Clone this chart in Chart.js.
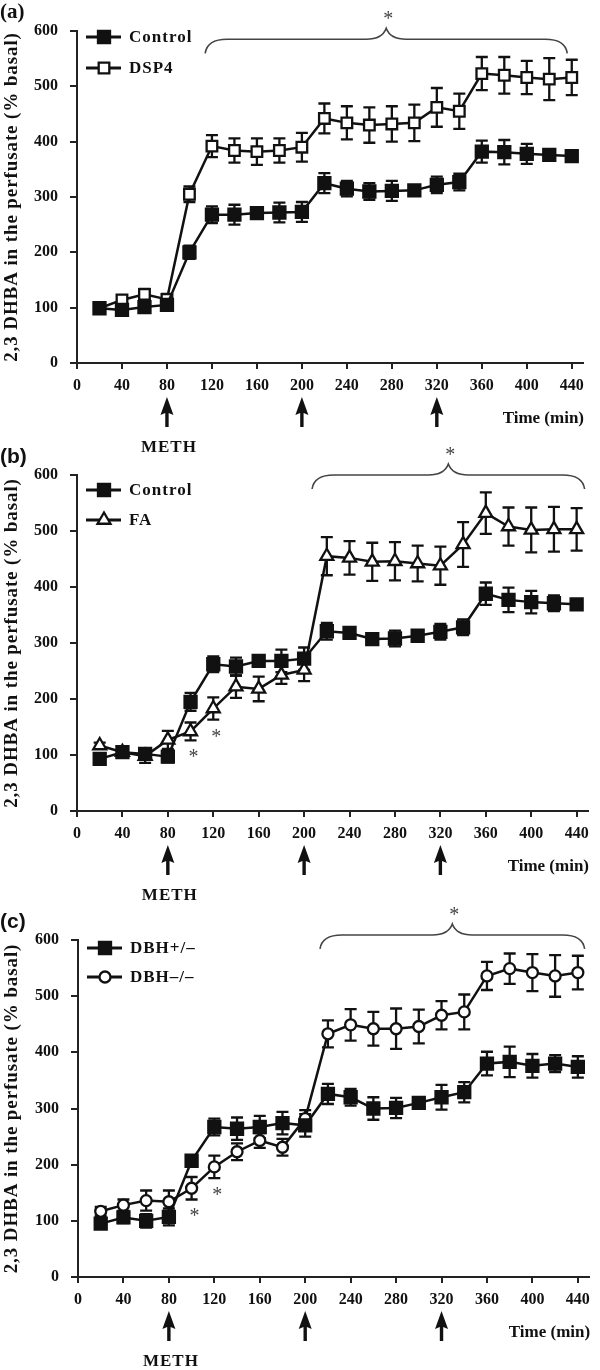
<!DOCTYPE html>
<html>
<head>
<meta charset="utf-8">
<script src="https://cdn.jsdelivr.net/npm/chart.js@4.4.1/dist/chart.umd.min.js"></script>
<style>
  html, body { margin: 0; padding: 0; background: #fff; }
  body { width: 600px; height: 1370px; position: relative; overflow: hidden; }
  canvas { position: absolute; left: 0; }
</style>
</head>
<body>
<canvas id="panelA" width="600" height="460" style="top:0px"></canvas>
<canvas id="panelB" width="600" height="470" style="top:440px"></canvas>
<canvas id="panelC" width="600" height="475" style="top:895px"></canvas>
<script>
// sampling times (min) and axis ticks
const times = [20, 40, 60, 80, 100, 120, 140, 160, 180, 200, 220, 240, 260, 280, 300, 320, 340, 360, 380, 400, 420, 440];
const xTickValues = [0, 40, 80, 120, 160, 200, 240, 280, 320, 360, 400, 440];
const yTickValues = [0, 100, 200, 300, 400, 500, 600];
const methTimes = [80, 200, 320];

// (a) Control vs DSP4
const controlA = [99, 96, 101, 105, 200, 268, 268, 271, 272, 273, 325, 315, 310, 311, 312, 322, 327, 382, 381, 378, 376, 374];
const controlAErr = [8, 8, 8, 8, 12, 15, 18, 10, 18, 18, 18, 14, 15, 18, 8, 15, 15, 20, 22, 18, 10, 6];
const dsp4 = [99, 114, 124, 115, 305, 392, 384, 382, 384, 390, 442, 434, 430, 432, 434, 462, 455, 523, 520, 516, 513, 516];
const dsp4Err = [6, 8, 10, 10, 14, 20, 22, 24, 22, 26, 27, 30, 32, 32, 33, 35, 32, 30, 33, 30, 38, 32];

// (b) Control vs FA
const controlB = [93, 105, 102, 97, 195, 262, 258, 268, 268, 272, 321, 318, 307, 308, 313, 320, 328, 388, 377, 373, 371, 369];
const controlBErr = [8, 10, 10, 10, 16, 14, 16, 10, 20, 20, 15, 10, 10, 14, 8, 14, 14, 20, 22, 20, 14, 8];
const fa = [117, 105, 98, 127, 142, 183, 222, 218, 243, 252, 455, 452, 445, 446, 442, 438, 476, 532, 508, 502, 503, 503];
const faErr = [5, 10, 12, 16, 16, 20, 20, 22, 16, 20, 34, 30, 34, 34, 32, 34, 40, 37, 34, 40, 40, 38];

// (c) DBH+/- vs DBH-/-
const dbhHet = [95, 106, 100, 107, 207, 267, 264, 267, 274, 270, 326, 320, 300, 301, 310, 320, 329, 380, 383, 376, 380, 374];
const dbhHetErr = [8, 10, 12, 15, 10, 15, 20, 20, 20, 20, 18, 15, 20, 18, 8, 22, 18, 21, 27, 21, 15, 19];
const dbhKo = [117, 128, 136, 134, 158, 196, 223, 243, 231, 282, 433, 449, 442, 442, 446, 466, 472, 536, 549, 542, 536, 542];
const dbhKoErr = [8, 10, 18, 20, 20, 20, 15, 13, 15, 15, 24, 28, 30, 36, 30, 25, 31, 25, 27, 33, 37, 30];

// significance marks: brace range (min) and single time points
const braceA = [114, 436];
const braceB = [207, 447];
const braceC = [213, 446];
const sigTimesB = [100, 120];
const sigTimesC = [100, 120];

const INK = "#111";
const SERIF = '"Liberation Serif", "Times New Roman", serif';

const panels = [
    {
        id: "panelA", height: 460, areaTop: 31, areaBottom: 363, left: 77, right: 583,
        label: "(a)", labelFont: "bold 21px " + SERIF,
        series: [
            { label: "Control", values: controlA, errors: controlAErr, style: "rect", fill: INK, radius: 8.5 },
            { label: "DSP4", values: dsp4, errors: dsp4Err, style: "rect", fill: "#fff", radius: 7.5 }
        ],
        legendRows: [6, 37],
        brace: braceA, braceLevel: 585,
        sigTimes: [], sigSeries: 1
    },
    {
        id: "panelB", height: 470, areaTop: 35, areaBottom: 371, left: 77, right: 588,
        label: "(b)", labelFont: 'bold 21px "Liberation Sans", Arial, sans-serif',
        series: [
            { label: "Control", values: controlB, errors: controlBErr, style: "rect", fill: INK, radius: 8.5 },
            { label: "FA", values: fa, errors: faErr, style: "triangle", fill: "#fff", radius: 7.5 }
        ],
        legendRows: [15, 45],
        brace: braceB, braceLevel: 600,
        sigTimes: sigTimesB, sigSeries: 1
    },
    {
        id: "panelC", height: 475, areaTop: 45, areaBottom: 382, left: 78, right: 600,
        label: "(c)", labelFont: 'bold 21px "Liberation Sans", Arial, sans-serif',
        series: [
            { label: "DBH+/\u2013", values: dbhHet, errors: dbhHetErr, style: "rect", fill: INK, radius: 8.5 },
            { label: "DBH\u2013/\u2013", values: dbhKo, errors: dbhKoErr, style: "circle", fill: "#fff", radius: 5.5 }
        ],
        legendRows: [8, 37],
        brace: braceC, braceLevel: 609,
        sigTimes: sigTimesC, sigSeries: 1
    }
];

function makeExtras(p) {
    return {
        id: "extras",
        // error bars go under the lines and markers
        beforeDatasetsDraw(chart) {
            const ctx = chart.ctx, x = chart.scales.x, y = chart.scales.y;
            ctx.save();
            ctx.strokeStyle = INK;
            ctx.lineWidth = 2.3;
            p.series.forEach(s => {
                times.forEach((t, i) => {
                    const px = x.getPixelForValue(t);
                    const top = y.getPixelForValue(s.values[i] + s.errors[i]);
                    const bot = y.getPixelForValue(s.values[i] - s.errors[i]);
                    ctx.beginPath();
                    ctx.moveTo(px, top); ctx.lineTo(px, bot);
                    ctx.moveTo(px - 6, top); ctx.lineTo(px + 6, top);
                    ctx.moveTo(px - 6, bot); ctx.lineTo(px + 6, bot);
                    ctx.stroke();
                });
            });
            ctx.restore();
        },
        afterDraw(chart) {
            const ctx = chart.ctx, x = chart.scales.x, y = chart.scales.y;
            const area = chart.chartArea;
            ctx.save();

            // y axis title
            ctx.save();
            ctx.translate(12, (area.top + area.bottom) / 2);
            ctx.rotate(-Math.PI / 2);
            ctx.font = "bold 19px " + SERIF;
            ctx.letterSpacing = "0.9px";
            ctx.fillStyle = INK;
            ctx.textAlign = "center";
            ctx.textBaseline = "middle";
            ctx.fillText("2,3 DHBA in the perfusate (% basal)", 0, 0);
            ctx.restore();

            // panel letter
            ctx.font = p.labelFont;
            ctx.fillStyle = INK;
            ctx.textAlign = "left";
            ctx.textBaseline = "middle";
            ctx.fillText(p.label, 0, area.top - 18);

            // legend
            p.series.forEach((s, i) => {
                const ly = area.top + p.legendRows[i];
                const lx = area.left + 9;
                ctx.strokeStyle = INK;
                ctx.lineWidth = 2.8;
                ctx.beginPath();
                ctx.moveTo(lx, ly); ctx.lineTo(lx + 35, ly);
                ctx.stroke();
                ctx.fillStyle = s.fill;
                ctx.lineWidth = 2.3;
                Chart.helpers.drawPoint(ctx, { pointStyle: s.style, radius: s.radius, borderWidth: 2.3, rotation: 0 }, lx + 18, ly);
                ctx.fillStyle = INK;
                ctx.font = "bold 17px " + SERIF;
                ctx.letterSpacing = "1px";
                ctx.textAlign = "left";
                ctx.textBaseline = "middle";
                ctx.fillText(s.label, lx + 43, ly + 1);
                ctx.letterSpacing = "0px";
            });

            // curly brace over the significant period
            const x0 = x.getPixelForValue(p.brace[0]);
            const x1 = x.getPixelForValue(p.brace[1]);
            const xm = (x0 + x1) / 2;
            const yl = y.getPixelForValue(p.braceLevel);
            ctx.strokeStyle = "#444";
            ctx.lineWidth = 1.6;
            ctx.beginPath();
            ctx.moveTo(x0, yl + 14);
            ctx.quadraticCurveTo(x0 + 2, yl, x0 + 22, yl);
            ctx.lineTo(xm - 20, yl);
            ctx.quadraticCurveTo(xm - 4, yl, xm, yl - 11);
            ctx.quadraticCurveTo(xm + 4, yl, xm + 20, yl);
            ctx.lineTo(x1 - 22, yl);
            ctx.quadraticCurveTo(x1 - 2, yl, x1, yl + 14);
            ctx.stroke();
            ctx.fillStyle = "#444";
            ctx.font = "20px " + SERIF;
            ctx.textAlign = "center";
            ctx.textBaseline = "alphabetic";
            ctx.fillText("*", xm + 2, yl - 24 + 10);

            // single-point asterisks below the lower series
            const ss = p.series[p.sigSeries];
            p.sigTimes.forEach(t => {
                const i = times.indexOf(t);
                const py = y.getPixelForValue(ss.values[i] - ss.errors[i]) + 13;
                ctx.fillText("*", x.getPixelForValue(t) + 3, py + 10);
            });

            // METH injection arrows
            const base = area.bottom;
            ctx.fillStyle = INK;
            methTimes.forEach(t => {
                const ax = x.getPixelForValue(t);
                ctx.beginPath();
                ctx.moveTo(ax, base + 34);
                ctx.lineTo(ax + 6.5, base + 52);
                ctx.lineTo(ax + 1.7, base + 50);
                ctx.lineTo(ax + 1.7, base + 64);
                ctx.lineTo(ax - 1.7, base + 64);
                ctx.lineTo(ax - 1.7, base + 50);
                ctx.lineTo(ax - 6.5, base + 52);
                ctx.closePath();
                ctx.fill();
            });
            ctx.font = "bold 17px " + SERIF;
            ctx.letterSpacing = "1px";
            ctx.textAlign = "center";
            ctx.textBaseline = "middle";
            ctx.fillText("METH", x.getPixelForValue(methTimes[0]) + 2, base + 85);
            ctx.letterSpacing = "0px";

            ctx.font = "bold 17px " + SERIF;
            ctx.textAlign = "right";
            ctx.fillText("Time (min)", area.right + 1, base + 56);

            ctx.restore();
        }
    };
}

const tickFont = { family: "Liberation Serif", weight: "bold", size: 16 };

panels.forEach(p => {
    new Chart(document.getElementById(p.id), {
        type: "line",
        data: {
            datasets: p.series.map(s => ({
                label: s.label,
                data: times.map((t, i) => ({ x: t, y: s.values[i] })),
                borderColor: INK,
                borderWidth: 2.5,
                pointStyle: s.style,
                pointRadius: s.radius,
                pointBackgroundColor: s.fill,
                pointBorderColor: INK,
                pointBorderWidth: 2.3,
                tension: 0,
                fill: false
            }))
        },
        options: {
            responsive: false,
            animation: false,
            devicePixelRatio: 1,
            layout: { padding: { top: p.areaTop, right: 600 - p.right, left: 0, bottom: 0 } },
            plugins: {
                legend: { display: false },
                tooltip: { enabled: false }
            },
            scales: {
                x: {
                    type: "linear",
                    min: 0,
                    max: 450,
                    afterBuildTicks: s => { s.ticks = xTickValues.map(v => ({ value: v })); },
                    afterFit: s => { s.height = p.height - p.areaBottom; },
                    ticks: { font: tickFont, color: INK, padding: 7, maxRotation: 0, autoSkip: false },
                    grid: { drawOnChartArea: false, drawTicks: true, tickLength: 6, color: "#222", lineWidth: 2 },
                    border: { color: "#222", width: 2 }
                },
                y: {
                    min: 0,
                    max: 600,
                    afterBuildTicks: s => { s.ticks = yTickValues.map(v => ({ value: v })); },
                    afterFit: s => { s.width = p.left; },
                    ticks: { font: tickFont, color: INK, padding: 12 },
                    grid: { drawOnChartArea: false, drawTicks: true, tickLength: 7, color: "#222", lineWidth: 2 },
                    border: { color: "#222", width: 2 }
                }
            }
        },
        plugins: [makeExtras(p)]
    });
});
</script>
</body>
</html>
